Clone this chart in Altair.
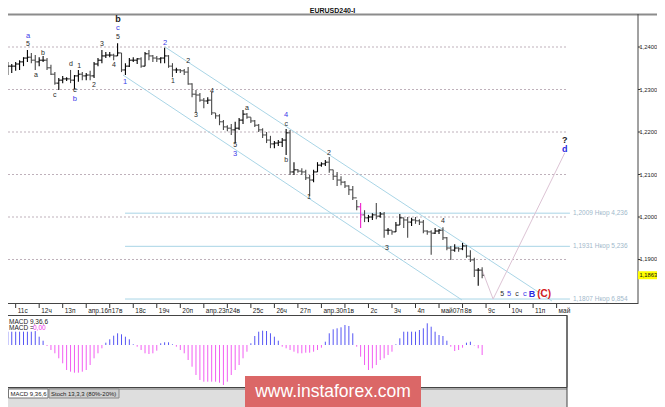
import altair as alt
import pandas as pd

# ---------------- data ----------------
highs = [1.2374, 1.2365, 1.2360, 1.2365, 1.2369, 1.2376, 1.2393, 1.2386, 1.2381, 1.2376,
         1.2379, 1.2374, 1.2358, 1.2341, 1.2327, 1.2332, 1.2329, 1.2346, 1.2334, 1.2346,
         1.2341, 1.2339, 1.2344, 1.2365, 1.2374, 1.2393, 1.2388, 1.2388, 1.2384, 1.2409,
         1.2386, 1.2362, 1.2374, 1.2376, 1.2374, 1.2376, 1.2388, 1.2393, 1.2381, 1.2379,
         1.2376, 1.2398, 1.2381, 1.2362, 1.2351, 1.2348, 1.2348, 1.2353, 1.2315, 1.2299,
         1.2292, 1.2280, 1.2282, 1.2294, 1.2245, 1.2242, 1.2228, 1.2216, 1.2219, 1.2224,
         1.2233, 1.2252, 1.2245, 1.2235, 1.2228, 1.2219, 1.2209, 1.2200, 1.2191, 1.2179,
         1.2181, 1.2186, 1.2207, 1.2205, 1.2129, 1.2113, 1.2115, 1.2111, 1.2099, 1.2111,
         1.2129, 1.2129, 1.2134, 1.2141, 1.2111, 1.2106, 1.2096, 1.2085, 1.2075, 1.2073,
         1.2040, 1.2033, 1.2016, 1.2005, 1.2009, 1.2033, 1.2012, 1.2012, 1.1974, 1.1969,
         1.1988, 1.2007, 1.1998, 1.2000, 1.1998, 1.2000, 1.1995, 1.1993, 1.1969, 1.1969,
         1.1974, 1.1972, 1.1976, 1.1953, 1.1932, 1.1936, 1.1929, 1.1939, 1.1934, 1.1922,
         1.1904, 1.1880, 1.1882]
lows = [1.2318, 1.2334, 1.2339, 1.2344, 1.2346, 1.2355, 1.2365, 1.2362, 1.2346, 1.2355,
        1.2365, 1.2346, 1.2334, 1.2311, 1.2299, 1.2315, 1.2320, 1.2315, 1.2301, 1.2318,
        1.2322, 1.2322, 1.2322, 1.2327, 1.2355, 1.2362, 1.2374, 1.2376, 1.2369, 1.2379,
        1.2341, 1.2334, 1.2353, 1.2365, 1.2360, 1.2351, 1.2355, 1.2369, 1.2365, 1.2365,
        1.2362, 1.2362, 1.2351, 1.2329, 1.2339, 1.2339, 1.2334, 1.2311, 1.2282, 1.2245,
        1.2271, 1.2256, 1.2266, 1.2240, 1.2231, 1.2216, 1.2205, 1.2202, 1.2193, 1.2174,
        1.2205, 1.2219, 1.2231, 1.2221, 1.2212, 1.2200, 1.2186, 1.2174, 1.2162, 1.2162,
        1.2167, 1.2165, 1.2146, 1.2099, 1.2099, 1.2104, 1.2099, 1.2087, 1.2049, 1.2082,
        1.2106, 1.2118, 1.2120, 1.2104, 1.2087, 1.2073, 1.2075, 1.2068, 1.2052, 1.2040,
        1.2016, 1.1974, 1.1988, 1.1988, 1.1993, 1.1995, 1.1998, 1.1951, 1.1958, 1.1958,
        1.1965, 1.1981, 1.1974, 1.1951, 1.1979, 1.1984, 1.1981, 1.1962, 1.1958, 1.1911,
        1.1960, 1.1960, 1.1946, 1.1922, 1.1899, 1.1918, 1.1918, 1.1922, 1.1904, 1.1894,
        1.1859, 1.1838, 1.1856]
closes = [1.2346, 1.2355, 1.2355, 1.2360, 1.2365, 1.2374, 1.2376, 1.2369, 1.2365, 1.2369,
          1.2369, 1.2351, 1.2336, 1.2315, 1.2322, 1.2325, 1.2325, 1.2322, 1.2332, 1.2336,
          1.2332, 1.2334, 1.2332, 1.2360, 1.2369, 1.2379, 1.2381, 1.2381, 1.2379, 1.2386,
          1.2346, 1.2355, 1.2369, 1.2369, 1.2372, 1.2355, 1.2384, 1.2379, 1.2374, 1.2372,
          1.2374, 1.2379, 1.2355, 1.2346, 1.2346, 1.2344, 1.2341, 1.2313, 1.2289, 1.2287,
          1.2275, 1.2273, 1.2275, 1.2245, 1.2238, 1.2224, 1.2212, 1.2209, 1.2205, 1.2209,
          1.2228, 1.2242, 1.2235, 1.2226, 1.2216, 1.2205, 1.2193, 1.2181, 1.2172, 1.2174,
          1.2176, 1.2181, 1.2198, 1.2106, 1.2111, 1.2108, 1.2106, 1.2092, 1.2087, 1.2106,
          1.2122, 1.2125, 1.2129, 1.2111, 1.2096, 1.2087, 1.2082, 1.2073, 1.2064, 1.2045,
          1.2024, 1.2005, 1.1998, 1.2000, 1.2005, 1.2002, 1.2007, 1.1969, 1.1969, 1.1965,
          1.1981, 1.1998, 1.1993, 1.1988, 1.1993, 1.1991, 1.1988, 1.1967, 1.1965, 1.1962,
          1.1967, 1.1969, 1.1951, 1.1927, 1.1922, 1.1927, 1.1925, 1.1932, 1.1908, 1.1899,
          1.1875, 1.1875, 1.1863]
first_open = 1.2325
highlight_bar = 91

macd_hist = [0.00133, 0.00133, 0.00133, 0.00133, 0.00133, 0.00133, 0.00133, 0.00133, 0.00139, 0.00083,
             0.00043, -0.00010, -0.00050, -0.00083, -0.00133, -0.00183, -0.00250, -0.00267, -0.00277, -0.00277,
             -0.00267, -0.00250, -0.00200, -0.00133, -0.00083, -0.00033, 0.00023, 0.00057, 0.00093, 0.00117,
             0.00107, 0.00083, 0.00057, 0.00007, -0.00017, -0.00050, -0.00083, -0.00090, -0.00083, -0.00057,
             0.00017, 0.00027, 0.00027, 0.00007, -0.00017, -0.00050, -0.00083, -0.00150, -0.00217, -0.00300,
             -0.00350, -0.00367, -0.00367, -0.00367, -0.00367, -0.00377, -0.00400, -0.00367, -0.00300, -0.00250,
             -0.00200, -0.00133, -0.00067, 0.00017, 0.00090, 0.00133, 0.00143, 0.00140, 0.00117, 0.00083,
             0.00043, -0.00017, -0.00033, -0.00050, -0.00067, -0.00083, -0.00083, -0.00077, -0.00077, -0.00067,
             -0.00050, -0.00027, 0.00033, 0.00117, 0.00157, 0.00167, 0.00177, 0.00200, 0.00190, 0.00117,
             -0.00017, -0.00117, -0.00200, -0.00250, -0.00233, -0.00200, -0.00150, -0.00133, -0.00100, -0.00067,
             0.00007, 0.00067, 0.00133, 0.00133, 0.00133, 0.00133, 0.00150, 0.00167, 0.00217, 0.00183,
             0.00133, 0.00100, 0.00090, 0.00043, -0.00017, -0.00060, -0.00050, -0.00027, 0.00023, 0.00033,
             -0.00005, -0.00033, -0.00100]

day_labels = ["11с", "12ч", "13п", "апр.16п", "17в", "18с", "19ч", "20п", "апр.23п", "24в",
              "25с", "26ч", "27п", "апр.30п", "1в", "2с", "3ч", "4п", "май07п", "8в",
              "9с", "10ч", "11п", "май"]
day_start_bar = [3, 9, 15, 21, 27, 33, 39, 45, 51, 57, 63, 69, 75, 81, 87, 93, 99, 105,
                 111, 117, 123, 129, 135, 141]

price_ticks = [1.19, 1.20, 1.21, 1.22, 1.23, 1.24]
price_tick_labels = ["1,1900", "1,2000", "1,2100", "1,2200", "1,2300", "1,2400"]
fib_levels = [1.2009, 1.1931, 1.1807]
fib_texts = ["1,2009 Нкор 4,236", "1,1931 Нкор 5,236", "1,1807 Нкор 6,854"]
fib_from_bar = 30.9
fib_to_bar = 144.4
last_price = 1.1863
last_price_label = "1,1863"

channel_lower = [(30.38, 1.23341), (116.86, 1.18047)]
channel_upper = [(41.1, 1.2400), (139.8, 1.18024)]
projection = [(122.0, 1.1875), (124.8, 1.1807), (143.1, 1.2151)]

wave_labels = [
    (6.15, 1.24260, "a", "blue"), (6.15, 1.24071, "5", "black"),
    (8.2, 1.23341, "a", "black"), (9.97, 1.23859, "b", "black"),
    (13.0, 1.22871, "c", "black"), (17.1, 1.23600, "d", "black"),
    (19.2, 1.23553, "1", "black"), (18.1, 1.22988, "e", "black"),
    (18.1, 1.22776, "b", "blue"), (23.0, 1.23106, "2", "black"),
    (25.0, 1.24071, "3", "black"), (28.1, 1.23576, "4", "black"),
    (29.1, 1.24659, "b", "black_bold"), (29.1, 1.24447, "c", "blue"),
    (29.1, 1.24235, "5", "black"), (30.9, 1.23176, "1", "blue"),
    (41.1, 1.24094, "2", "blue"), (43.1, 1.23200, "1", "black"),
    (47.0, 1.23671, "2", "black"), (49.0, 1.22400, "3", "black"),
    (53.1, 1.22965, "4", "black"), (62.0, 1.22565, "a", "black"),
    (59.0, 1.21694, "5", "black"), (59.0, 1.21482, "3", "blue"),
    (72.0, 1.22400, "4", "blue"), (72.0, 1.22188, "c", "black"),
    (72.0, 1.21341, "b", "black"), (77.8, 1.20471, "1", "black"),
    (82.9, 1.21506, "2", "black"), (97.7, 1.19271, "3", "black"),
    (112.0, 1.19906, "4", "black"), (143.1, 1.21812, "?", "black_bold"),
    (143.1, 1.21600, "d", "blue_bold"), (127.1, 1.18188, "5", "black"),
    (128.9, 1.18188, "5", "blue"), (130.9, 1.18188, "c", "black"),
    (132.9, 1.18188, "c", "blue"), (134.7, 1.18188, "B", "blue_bold"),
    (137.8, 1.18188, "(C)", "red_bold"),
]

# ---------------- tables ----------------
n = len(closes)
opens = [first_open] + closes[:-1]
bars = pd.DataFrame({"i": list(range(n)), "high": highs, "low": lows,
                     "open": opens, "close": closes})
bars["col"] = ["#ee22cc" if k == highlight_bar else ("#000000" if c >= o else "#484848")
               for k, (o, c) in enumerate(zip(opens, closes))]

macd = pd.DataFrame({"i": list(range(n)), "h": macd_hist})
macd["col"] = ["#5656f4" if v >= 0 else "#f25ef2" for v in macd_hist]

days = pd.DataFrame({"i": day_start_bar, "lab": day_labels})
ticks_df = pd.DataFrame({"p": price_ticks, "t": price_tick_labels})
fibs = pd.DataFrame({"p": fib_levels, "t": fib_texts,
                     "x0": [fib_from_bar] * 3, "x1": [fib_to_bar] * 3})
chan_rows = []
for name, pts in (("lower", channel_lower), ("upper", channel_upper)):
    for (bi, pp) in pts:
        chan_rows.append({"line": name, "i": bi, "p": pp})
chan = pd.DataFrame(chan_rows)
proj = pd.DataFrame({"i": [q[0] for q in projection], "p": [q[1] for q in projection],
                     "o": list(range(len(projection)))})
waves = pd.DataFrame(wave_labels, columns=["i", "p", "t", "s"])
one = pd.DataFrame({"k": [0]})

FONT = "Liberation Sans"
X = alt.Scale(domain=[-0.995, 161.76], nice=False, zero=False)
YP = alt.Scale(domain=[1.155294, 1.251059], nice=False, zero=False)
YM = alt.Scale(domain=[-0.0062, 0.0345], nice=False, zero=False)


def xi(field="i"):
    return alt.X(f"{field}:Q", scale=X, axis=None)


def yp(field="p"):
    return alt.Y(f"{field}:Q", scale=YP, axis=None)


def deco_rule(x, x2, y, y2, color, w=1.0):
    return alt.Chart(one).mark_rule(color=color, strokeWidth=w).encode(
        x=alt.value(x), x2=alt.value(x2), y=alt.value(y), y2=alt.value(y2))


def deco_rect(x, x2, y, y2, fill, stroke="", w=1.0):
    kw = dict(fill=fill)
    if stroke:
        kw.update(stroke=stroke, strokeWidth=w)
    return alt.Chart(one).mark_rect(**kw).encode(
        x=alt.value(x), x2=alt.value(x2), y=alt.value(y), y2=alt.value(y2))


def deco_text(x, y, text, size=7.0, color="#222222", align="left", weight="normal", font=FONT):
    return alt.Chart(one).mark_text(text=text, fontSize=size, color=color, align=align,
                                    baseline="middle", fontWeight=weight, font=font).encode(
        x=alt.value(x), y=alt.value(y))


layers = []
# frames / panels
layers.append(deco_rect(0, 665, 0, 407, "#ffffff"))
layers.append(deco_rule(0, 665, 14.5, 14.5, "#8c8c8c", 2))
layers.append(deco_text(332.5, 11.2, "EURUSD240-I", 7, "#111111", "center", "bold"))
layers.append(deco_rule(638, 638, 14, 304, "#444444"))
layers.append(deco_rule(0, 638, 303.5, 303.5, "#444444"))

# price grid
layers.append(alt.Chart(ticks_df).mark_rule(
    color="#bfb1bb", strokeDash=[2, 2], strokeWidth=1).encode(
    x=alt.value(0), x2=alt.value(567), y=yp()))
# right price scale (ticks + labels)
layers.append(alt.Chart(ticks_df).mark_rule(color="#333333", strokeWidth=1).encode(
    x=alt.value(638), x2=alt.value(640.5), y=yp()))
layers.append(alt.Chart(ticks_df).mark_text(align="left", baseline="middle", fontSize=5.8,
                                            font=FONT, color="#222222").encode(
    x=alt.value(639.5), y=yp(), text="t:N"))

# Fibonacci levels
layers.append(alt.Chart(fibs).mark_rule(color="#a9d5e6", strokeWidth=1).encode(
    x=xi("x0"), x2="x1:Q", y=yp("p")))
layers.append(alt.Chart(fibs).mark_text(align="left", baseline="middle", fontSize=6.5,
                                        font=FONT, color="#9fb9cb").encode(
    x=alt.value(573), y=yp("p"), text="t:N"))

# channel lines
layers.append(alt.Chart(chan).mark_line(color="#a9d5e6", strokeWidth=1).encode(
    x=xi(), y=yp(), detail="line:N"))
# projected path
layers.append(alt.Chart(proj).mark_line(color="#dcc3d4", strokeWidth=1).encode(
    x=xi(), y=yp(), order="o:Q"))

# OHLC bars
layers.append(alt.Chart(bars).mark_rule(strokeWidth=1.1).encode(
    x=xi(), y=yp("high"), y2="low:Q", color=alt.Color("col:N", scale=None)))
layers.append(alt.Chart(bars).mark_rule(strokeWidth=1, xOffset=-2).encode(
    x=xi(), x2="i:Q", y=yp("open"), color=alt.Color("col:N", scale=None)))
layers.append(alt.Chart(bars).mark_rule(strokeWidth=1, x2Offset=2).encode(
    x=xi(), x2="i:Q", y=yp("close"), color=alt.Color("col:N", scale=None)))

# wave labels
styles = {
    "black": ("#2a2a2a", 7, "normal"),
    "blue": ("#3a3ae8", 7.5, "normal"),
    "black_bold": ("#1a1a1a", 9, "bold"),
    "blue_bold": ("#2a2ae0", 9, "bold"),
    "red_bold": ("#d42020", 10, "bold"),
}
for key, (colr, size, weight) in styles.items():
    sub = waves[waves["s"] == key]
    layers.append(alt.Chart(sub).mark_text(color=colr, fontSize=size, fontWeight=weight,
                                           font=FONT, align="center", baseline="middle").encode(
        x=xi(), y=yp(), text="t:N"))

# current price marker
cur = pd.DataFrame({"p": [last_price], "t": [last_price_label]})
layers.append(alt.Chart(cur).mark_tick(
    orient="horizontal", size=19, thickness=8, color="#ffff00", opacity=1).encode(
    x=alt.value(647.5), y=yp()))
layers.append(alt.Chart(cur).mark_text(
    align="left", baseline="middle", fontSize=5.8, font=FONT, color="#111111").encode(
    x=alt.value(639.5), y=yp(), text="t:N"))

# date axis
layers.append(alt.Chart(days).mark_rule(color="#333333").encode(
    x=xi(), y=alt.value(304), y2=alt.value(308)))
layers.append(alt.Chart(days).mark_text(align="left", baseline="middle", dx=2, fontSize=6.5,
                                        font=FONT, color="#222222").encode(
    x=xi(), y=alt.value(310.5), text="lab:N"))

# MACD panel
layers.append(deco_rect(0.5, 567, 315.5, 387.5, "#ffffff", "#444444", 1))
layers.append(alt.Chart(macd).mark_rule(strokeWidth=1).encode(
    x=xi(), y=alt.Y("h:Q", scale=YM, axis=None), y2=alt.datum(0),
    color=alt.Color("col:N", scale=None)))
layers.append(deco_text(9, 322, "MACD 9,36,6", 6.5))
layers.append(deco_text(9, 328, "MACD =", 6.5))
layers.append(deco_text(33, 328, "0,00", 6.5, "#ee33ee"))

# tab strip
layers.append(deco_rect(1, 567, 388, 407, "#dedede"))
layers.append(deco_rule(1, 567, 389, 389, "#777777"))
layers.append(deco_rect(8.5, 48, 389, 398, "#ffffff", "#777777", 1))
layers.append(deco_rect(49, 119, 389, 398, "#d0d0d0", "#888888", 1))
layers.append(deco_text(10.5, 393.5, "MACD 9,36,6", 6, "#222222"))
layers.append(deco_text(51, 393.5, "Stoch 13,3,3 (80%-20%)", 6, "#222222"))
layers.append(deco_rule(567, 567, 315, 407, "#444444"))

# watermark
layers.append(deco_rect(245, 421, 376, 407, "#db6767"))
layers.append(deco_text(333, 391.5, "www.instaforex.com", 17.5, "#ffffff", "center"))

chart = alt.layer(*layers).resolve_scale(y="independent").properties(
    width=638, height=407,
    padding={"left": -8, "top": -8, "right": 19, "bottom": 0},
    autosize=alt.AutoSizeParams(type="none"),
    background="white",
).configure_view(stroke=None)

chart.save("out.html", embed_options={"renderer": "svg", "actions": False})
